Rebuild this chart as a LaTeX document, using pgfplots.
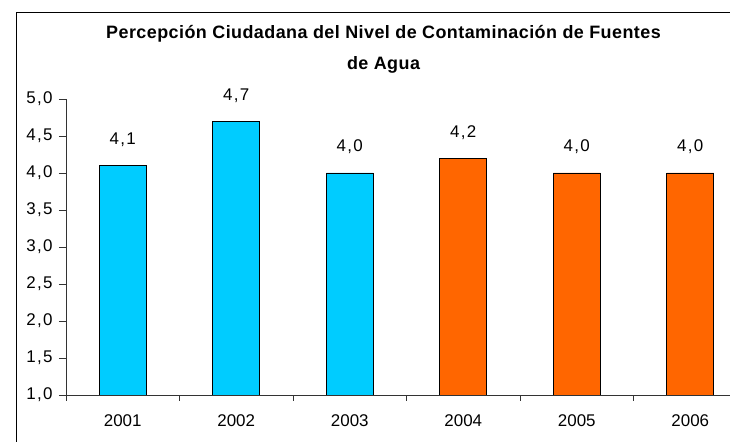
\documentclass[border=0pt]{standalone}
\usepackage{pgfplots}
\pgfplotsset{compat=1.18}
\usepackage{fontspec}
\setmainfont{Liberation Sans}
\definecolor{barcyan}{HTML}{00CCFF}
\definecolor{barorange}{HTML}{FF6600}
\begin{document}
\begin{tikzpicture}[x=1bp,y=1bp]
\useasboundingbox (0,0) rectangle (730,442);
\clip (0,0) rectangle (730,442);
\fill[white] (0,0) rectangle (730,442);
\draw[black, line width=1bp] (16.5,-20) -- (16.5,429.5) -- (760,429.5);
\node[anchor=base, inner sep=0pt, font=\bfseries\fontsize{18}{20}\selectfont\addfontfeature{LetterSpace=2.5}] at (383.5,403) {Percepción Ciudadana del Nivel de Contaminación de Fuentes};
\node[anchor=base, inner sep=0pt, font=\bfseries\fontsize{18}{20}\selectfont\addfontfeature{LetterSpace=2.5}] at (383.5,372) {de Agua};
\begin{axis}[
  at={(66bp,47bp)}, anchor=south west,
  scale only axis, width=681bp, height=296bp,
  xmin=-0.5, xmax=5.5, ymin=1, ymax=5,
  axis x line*=bottom, axis y line*=left,
  axis line style={black!80, line width=0.8bp, -},
  every tick/.style={black!80, line width=0.8bp},
  xtick={0,...,5}, xticklabels={2001,2002,2003,2004,2005,2006},
  major x tick style={draw=none},
  minor xtick={-0.5,0.5,...,5.5},
  ytick={1,1.5,...,5},
  tick align=outside,
  major tick length=7bp, minor tick length=6bp,
  ticklabel style={font=\fontsize{17}{20}\selectfont},
  xticklabel style={yshift=-9bp},
  yticklabel style={xshift=-3bp},
  /pgf/number format/assume math mode=true,
  /pgf/number format/.cd, use comma, fixed, fixed zerofill, precision=1,
  set decimal separator={\kern1.3bp,\kern1.3bp},
  /pgfplots/.cd,
  ybar, bar width=47bp,
  nodes near coords,
  nodes near coords style={font=\fontsize{17}{20}\selectfont, anchor=base, yshift=21bp},
]
\addplot[bar shift=0pt, fill=barcyan, draw=black, line width=0.8bp] coordinates {(0,4.1)(1,4.7)(2,4.0)};
\addplot[bar shift=0pt, fill=barorange, draw=black, line width=0.8bp] coordinates {(3,4.2)(4,4.0)(5,4.0)};
\end{axis}
\end{tikzpicture}
\end{document}
